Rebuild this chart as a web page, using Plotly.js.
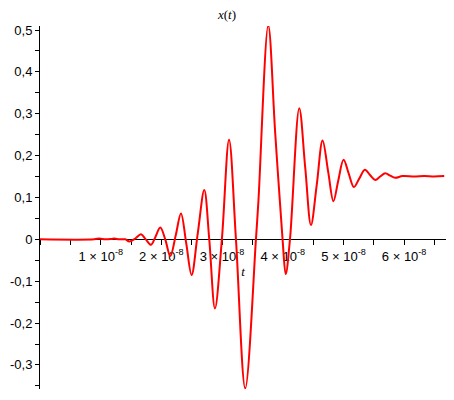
<!DOCTYPE html>
<html>
<head>
<meta charset="utf-8">
<script src="https://cdn.plot.ly/plotly-3.0.1.min.js"></script>
<style>html,body{margin:0;padding:0;background:#fff;}#chart{width:454px;height:400px;}</style>
</head>
<body>
<div id="chart"></div>
<script>
// time values (seconds)
const tValues = [
  0, 0.895e-8, 0.977e-8, 1.076e-8, 1.175e-8, 1.225e-8, 1.306e-8, 1.405e-8,
  1.471e-8, 1.570e-8, 1.664e-8, 1.743e-8, 1.829e-8, 1.900e-8, 1.982e-8, 2.064e-8,
  2.147e-8, 2.237e-8, 2.323e-8, 2.410e-8, 2.498e-8, 2.600e-8, 2.707e-8, 2.789e-8,
  2.883e-8, 2.997e-8, 3.115e-8, 3.229e-8, 3.382e-8, 3.558e-8, 3.600e-8, 3.761e-8,
  3.876e-8, 3.997e-8, 4.049e-8, 4.119e-8, 4.272e-8, 4.371e-8, 4.465e-8, 4.560e-8,
  4.656e-8, 4.750e-8, 4.835e-8, 4.914e-8, 5.002e-8, 5.087e-8, 5.173e-8, 5.260e-8,
  5.354e-8, 5.442e-8, 5.524e-8, 5.606e-8, 5.689e-8, 5.771e-8, 5.853e-8, 5.974e-8,
  6.166e-8, 6.331e-8, 6.496e-8, 6.661e-8
];
// signal values x(t)
const xValues = [
  0, 0, 0.002, 0, 0.001, 0.002, 0, 0,
  -0.005, 0.002, 0.012, 0, -0.013, 0.005, 0.028, 0,
  -0.040, 0.010, 0.062, -0.010, -0.085, 0.015, 0.118, 0,
  -0.165, 0, 0.238, 0, -0.356, 0, 0.094, 0.511,
  0.253, 0, -0.083, 0, 0.313, 0.170, 0.034, 0.130,
  0.236, 0.160, 0.091, 0.140, 0.190, 0.157, 0.125, 0.145,
  0.166, 0.153, 0.142, 0.150, 0.158, 0.152, 0.147, 0.151,
  0.150, 0.151, 0.150, 0.151
];
// axis ticks
const xTickVals = [1e-8, 2e-8, 3e-8, 4e-8, 5e-8, 6e-8];
const xTickText = ['1 × 10<sup>-8</sup>', '2 × 10<sup>-8</sup>', '3 × 10<sup>-8</sup>',
                   '4 × 10<sup>-8</sup>', '5 × 10<sup>-8</sup>', '6 × 10<sup>-8</sup>'];
const yTickVals = [-0.3, -0.2, -0.1, 0, 0.1, 0.2, 0.3, 0.4, 0.5];
const yTickText = ['-0,3', '-0,2', '-0,1', '0', '0,1', '0,2', '0,3', '0,4', '0,5'];

const yRange = [-0.3575, 0.5096];
const xRange = [0, 6.69e-8];
const font = {family: 'Liberation Sans, Arial, sans-serif', size: 13, color: '#000'};

const trace = {
  x: tValues, y: xValues, type: 'scatter', mode: 'lines',
  line: {color: '#ff0000', width: 2, shape: 'spline', smoothing: 1},
  hoverinfo: 'skip'
};

const layout = {
  width: 454, height: 400,
  margin: {l: 40, r: 8, t: 26, b: 11},
  paper_bgcolor: '#fff', plot_bgcolor: '#fff',
  showlegend: false,
  font: font,
  title: {
    text: '<i>x</i>(<i>t</i>)',
    font: {family: 'Liberation Serif, Times New Roman, serif', size: 13, color: '#000'},
    x: 0.5, xanchor: 'center', y: 0.965, yanchor: 'middle'
  },
  xaxis: {
    range: xRange, anchor: 'free', position: -yRange[0] / (yRange[1] - yRange[0]),
    showline: true, linecolor: '#000', linewidth: 1,
    showgrid: false, zeroline: false,
    tickmode: 'array', tickvals: xTickVals, ticktext: xTickText,
    ticks: 'outside', ticklen: 5, tickcolor: '#000', tickwidth: 1,
    minor: {dtick: 0.5e-8, tick0: 0, ticks: 'outside', ticklen: 5, tickcolor: '#000', tickwidth: 1, showgrid: false},
    tickfont: font, layer: 'below traces',
    title: {text: '<i>t</i>', font: {family: 'Liberation Serif, Times New Roman, serif', size: 13, color: '#000'}, standoff: 0},
    fixedrange: true
  },
  yaxis: {
    range: yRange,
    showline: true, linecolor: '#000', linewidth: 1,
    showgrid: false, zeroline: false,
    tickmode: 'array', tickvals: yTickVals, ticktext: yTickText,
    ticks: 'outside', ticklen: 4, tickcolor: '#000', tickwidth: 1,
    minor: {dtick: 0.05, tick0: 0, ticks: 'outside', ticklen: 4, tickcolor: '#000', tickwidth: 1, showgrid: false},
    tickfont: font, layer: 'below traces',
    fixedrange: true
  }
};

Plotly.newPlot('chart', [trace], layout, {staticPlot: true, displayModeBar: false});
</script>
</body>
</html>
